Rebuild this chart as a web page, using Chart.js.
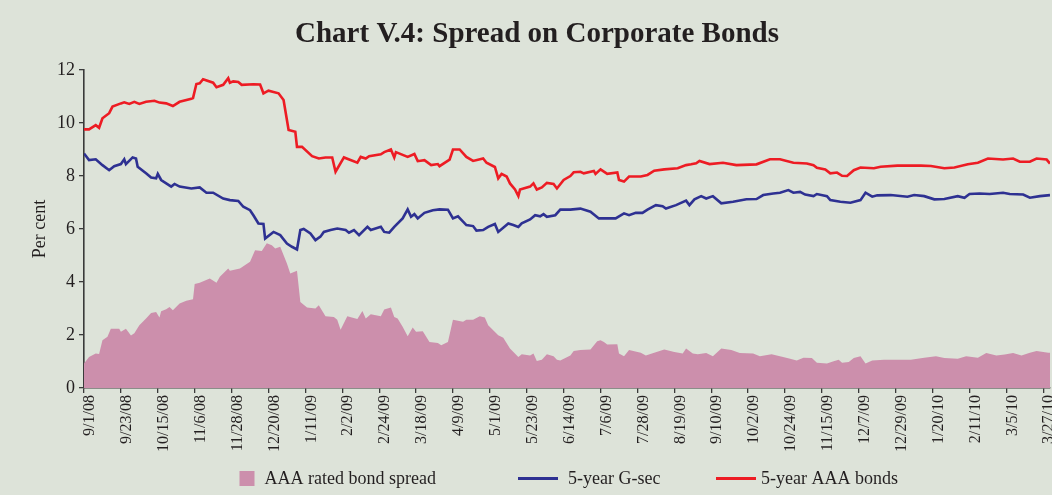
<!DOCTYPE html>
<html>
<head>
<meta charset="utf-8">
<script src="https://cdn.jsdelivr.net/npm/chart.js@4.4.1/dist/chart.umd.min.js"></script>
<style>
  html, body { margin: 0; padding: 0; background: #dde3d9; }
  #wrap { width: 1052px; height: 495px; }
  canvas { display: block; }
</style>
</head>
<body>
<div id="wrap"><canvas id="c" width="1052" height="495"></canvas></div>
<script>
// ---------- DATA ----------
// x values are days counted from 9/1/08
const tickLabels = ['9/1/08','9/23/08','10/15/08','11/6/08','11/28/08','12/20/08','1/11/09','2/2/09','2/24/09','3/18/09','4/9/09','5/1/09','5/23/09','6/14/09','7/6/09','7/28/09','8/19/09','9/10/09','10/2/09','10/24/09','11/15/09','12/7/09','12/29/09','1/20/10','2/11/10','3/5/10','3/27/10'];

const spreadDays = [0,3,7,9,11,14,16,21,22,25,28,30,33,37,40,43,45,46,49,51,53,57,61,65,66,69,75,79,81,86,87,93,99,102,106,109,112,114,117,121,123,127,129,133,138,140,144,149,151,153,157,163,166,168,171,177,179,183,185,187,190,193,196,198,202,206,211,213,217,220,226,228,232,236,239,241,247,250,254,259,261,266,268,270,273,276,280,282,284,290,292,296,302,306,308,310,312,318,319,322,325,332,335,340,346,352,357,359,363,366,371,375,380,386,391,399,403,410,415,421,425,429,434,437,443,447,450,452,456,459,463,466,470,477,485,493,501,508,513,521,526,533,538,544,549,554,559,564,568,575,576];
const spreadVals = [0.92,1.17,1.30,1.28,1.80,1.93,2.24,2.24,2.12,2.24,1.98,2.07,2.37,2.62,2.83,2.87,2.66,2.90,2.97,3.06,2.93,3.19,3.29,3.35,3.92,3.97,4.13,3.97,4.20,4.51,4.42,4.51,4.76,5.20,5.17,5.46,5.39,5.26,5.33,4.70,4.32,4.42,3.25,3.04,3.00,3.12,2.71,2.68,2.58,2.20,2.71,2.60,2.91,2.62,2.78,2.71,2.96,3.04,2.68,2.62,2.31,1.95,2.28,2.12,2.14,1.74,1.70,1.61,1.74,2.58,2.50,2.58,2.58,2.71,2.66,2.37,1.99,1.90,1.49,1.17,1.27,1.23,1.30,1.02,1.07,1.27,1.20,1.07,1.04,1.23,1.40,1.43,1.45,1.76,1.80,1.74,1.64,1.65,1.30,1.20,1.43,1.33,1.23,1.33,1.45,1.36,1.30,1.49,1.30,1.27,1.32,1.20,1.49,1.43,1.32,1.30,1.20,1.27,1.20,1.10,1.04,1.14,1.13,0.95,0.92,1.01,1.07,0.95,0.98,1.13,1.20,0.92,1.04,1.07,1.07,1.07,1.14,1.20,1.13,1.10,1.20,1.14,1.32,1.23,1.26,1.32,1.23,1.33,1.40,1.33,1.33];

const gsecDays = [0,3,7,11,15,18,22,24,25,29,31,32,37,40,43,44,46,52,54,57,64,69,73,77,83,87,92,95,99,101,104,107,108,113,117,121,124,127,129,131,135,138,141,143,147,151,156,158,161,164,169,171,177,179,182,185,190,193,195,197,199,203,208,212,217,220,223,228,232,234,238,241,245,247,253,256,259,261,266,269,272,274,276,281,284,290,296,302,307,312,317,322,325,329,333,336,341,345,347,353,359,361,364,368,371,375,380,387,395,401,405,411,415,420,423,427,430,435,437,443,445,451,457,463,466,470,473,481,491,495,501,507,513,521,525,528,534,540,548,552,560,564,570,576];
const gsecVals = [8.85,8.60,8.63,8.41,8.22,8.37,8.45,8.63,8.45,8.70,8.66,8.35,8.10,7.94,7.91,8.08,7.85,7.60,7.70,7.60,7.53,7.57,7.37,7.37,7.15,7.09,7.06,6.84,6.71,6.52,6.21,6.19,5.64,5.89,5.77,5.45,5.33,5.23,5.96,6.00,5.83,5.58,5.71,5.89,5.96,6.02,5.96,5.86,5.96,5.77,6.08,5.96,6.08,5.89,5.86,6.08,6.40,6.74,6.46,6.56,6.40,6.61,6.71,6.74,6.73,6.40,6.48,6.15,6.11,5.94,5.96,6.08,6.19,5.89,6.21,6.15,6.08,6.21,6.36,6.52,6.48,6.56,6.46,6.52,6.73,6.73,6.77,6.65,6.40,6.40,6.40,6.59,6.52,6.61,6.61,6.73,6.90,6.86,6.77,6.90,7.07,6.90,7.12,7.24,7.15,7.24,6.97,7.03,7.12,7.13,7.28,7.34,7.37,7.47,7.37,7.40,7.30,7.24,7.32,7.24,7.09,7.03,6.99,7.09,7.37,7.22,7.27,7.28,7.22,7.28,7.24,7.12,7.13,7.24,7.18,7.32,7.34,7.32,7.37,7.32,7.30,7.18,7.24,7.28];

const aaaDays = [0,3,7,9,11,15,17,22,24,27,30,33,37,42,45,49,53,57,64,65,67,69,71,77,79,83,86,87,89,92,94,101,105,107,110,116,119,122,126,127,130,136,140,144,148,150,155,163,165,168,170,177,179,183,185,186,193,197,199,203,207,211,212,218,220,224,228,232,238,240,245,247,249,252,254,257,259,260,266,268,270,273,276,280,282,286,290,292,296,298,304,305,308,312,318,319,322,325,332,336,340,346,354,359,362,365,367,373,381,389,401,409,415,423,431,435,437,442,445,449,452,455,459,463,471,475,485,499,505,513,519,527,533,539,548,554,558,564,568,574,576];
const aaaVals = [9.76,9.76,9.92,9.82,10.18,10.37,10.62,10.74,10.78,10.72,10.80,10.72,10.80,10.84,10.77,10.74,10.64,10.80,10.91,10.94,11.47,11.50,11.65,11.52,11.35,11.44,11.69,11.52,11.57,11.55,11.44,11.46,11.45,11.12,11.22,11.12,10.87,9.74,9.67,9.10,9.10,8.75,8.66,8.70,8.70,8.16,8.70,8.50,8.72,8.66,8.75,8.82,8.90,9.00,8.70,8.90,8.72,8.83,8.56,8.60,8.41,8.45,8.37,8.62,9.00,9.00,8.72,8.57,8.66,8.50,8.34,7.91,8.08,7.98,7.72,7.49,7.24,7.49,7.60,7.72,7.49,7.57,7.74,7.70,7.53,7.85,8.00,8.14,8.16,8.10,8.19,8.08,8.25,8.08,8.13,7.85,7.79,7.98,7.98,8.04,8.20,8.25,8.29,8.41,8.44,8.48,8.57,8.45,8.50,8.41,8.44,8.63,8.63,8.50,8.47,8.41,8.31,8.25,8.10,8.13,8.01,8.00,8.22,8.32,8.29,8.35,8.39,8.39,8.38,8.29,8.32,8.44,8.50,8.66,8.62,8.66,8.54,8.54,8.66,8.62,8.47];

const seriesNames = ['AAA rated bond spread', '5-year G-sec', '5-year AAA bonds'];
const chartTitle = 'Chart V.4: Spread on Corporate Bonds';
const yTitle = 'Per cent';

// ---------- helpers ----------
const START = new Date(2008, 8, 1);
function dayOf(label) {
  const [m, d, y] = label.split('/').map(Number);
  const dt = new Date(2000 + y, m - 1, d);
  return Math.round((dt - START) / 86400000);
}
const tickDays = tickLabels.map(dayOf);
const pts = (xs, ys) => xs.map((x, i) => ({ x: x, y: ys[i] }));

const BG = '#dde3d9';
const PINK = '#cc8fac';
const BLUE = '#2e3192';
const RED = '#ed1c24';
const TXT = '#231f20';
const AXIS = '#3a3a3a';
const SERIF = '"Liberation Serif", "Times New Roman", serif';

const decor = {
  id: 'decor',
  beforeDraw(chart) {
    const ctx = chart.ctx;
    ctx.save();
    ctx.fillStyle = BG;
    ctx.fillRect(0, 0, chart.width, chart.height);
    ctx.restore();
  },
  afterDraw(chart) {
    const ctx = chart.ctx;
    ctx.save();
    // title
    ctx.fillStyle = TXT;
    ctx.font = 'bold 29px ' + SERIF;
    ctx.textAlign = 'center';
    ctx.textBaseline = 'alphabetic';
    ctx.fillText(chartTitle, 537, 42);
    // legend
    ctx.font = '18px ' + SERIF;
    ctx.textAlign = 'left';
    const ds = chart.data.datasets;
    // item 1: filled square
    ctx.fillStyle = ds[0].backgroundColor;
    ctx.fillRect(239.5, 471, 15, 15);
    ctx.fillStyle = TXT;
    ctx.fillText(ds[0].label, 264.5, 483.5);
    // item 2: blue line
    ctx.strokeStyle = ds[1].borderColor;
    ctx.lineWidth = 3;
    ctx.beginPath(); ctx.moveTo(518, 478.5); ctx.lineTo(558, 478.5); ctx.stroke();
    ctx.fillText(ds[1].label, 568, 483.5);
    // item 3: red line
    ctx.strokeStyle = ds[2].borderColor;
    ctx.beginPath(); ctx.moveTo(716, 478.5); ctx.lineTo(756, 478.5); ctx.stroke();
    ctx.fillText(ds[2].label, 761, 483.5);
    ctx.restore();
  }
};

new Chart(document.getElementById('c'), {
  type: 'line',
  data: {
    datasets: [
      { label: seriesNames[0], data: pts(spreadDays, spreadVals), fill: 'origin',
        backgroundColor: PINK, borderColor: PINK, borderWidth: 0, pointRadius: 0, tension: 0, order: 3 },
      { label: seriesNames[1], data: pts(gsecDays, gsecVals), fill: false,
        borderColor: BLUE, backgroundColor: BLUE, borderWidth: 2.6, pointRadius: 0, tension: 0, order: 2 },
      { label: seriesNames[2], data: pts(aaaDays, aaaVals), fill: false,
        borderColor: RED, backgroundColor: RED, borderWidth: 2.6, pointRadius: 0, tension: 0, order: 1 }
    ]
  },
  options: {
    responsive: false,
    animation: false,
    devicePixelRatio: 1,
    layout: { padding: { top: 70, left: 0, right: 2, bottom: 0 } },
    plugins: {
      legend: { display: false },
      title: { display: false },
      tooltip: { enabled: false }
    },
    scales: {
      x: {
        type: 'linear',
        min: 0,
        max: 576,
        afterBuildTicks: s => { s.ticks = tickDays.map(v => ({ value: v })); },
        afterFit: s => { s.height = 107; s.paddingLeft = 0; s.paddingRight = 0; },
        ticks: {
          autoSkip: false, maxRotation: 90, minRotation: 90, padding: 2, labelOffset: 6,
          font: { family: SERIF, size: 16 }, color: TXT,
          callback: (v) => { const i = tickDays.indexOf(v); return i >= 0 ? tickLabels[i] : ''; }
        },
        grid: { drawOnChartArea: false, drawTicks: true, tickLength: 5, color: AXIS, lineWidth: 1.3 },
        border: { display: true, color: AXIS, width: 1.6 }
      },
      y: {
        min: 0,
        max: 12,
        afterFit: s => { s.width = 84; s.paddingTop = 0; s.paddingBottom = 0; },
        ticks: { stepSize: 2, padding: 4, font: { family: SERIF, size: 18 }, color: TXT },
        grid: { drawOnChartArea: false, drawTicks: true, tickLength: 5, color: AXIS, lineWidth: 1.3 },
        border: { display: true, color: AXIS, width: 1.6 },
        title: { display: true, text: yTitle, font: { family: SERIF, size: 18 }, color: TXT, padding: { top: 29, bottom: 0 } }
      }
    }
  },
  plugins: [decor]
});
</script>
</body>
</html>
